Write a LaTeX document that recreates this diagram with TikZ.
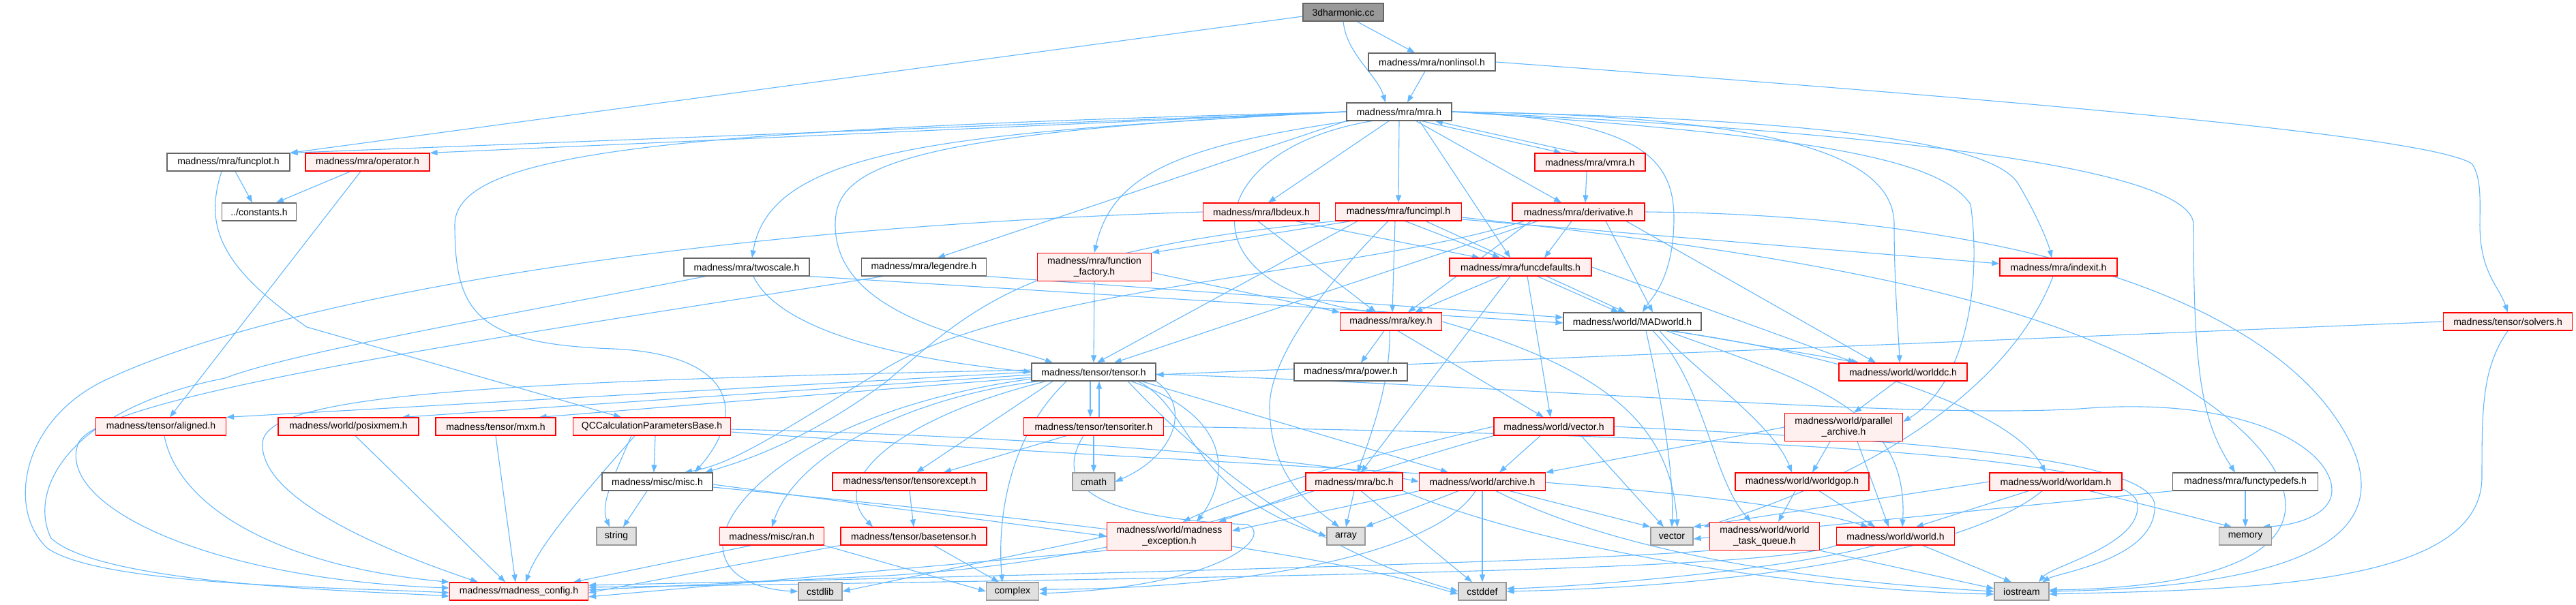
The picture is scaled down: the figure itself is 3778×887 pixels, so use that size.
\documentclass[tikz,border=0pt]{standalone}
\usepackage{fontspec}
\setmainfont{Liberation Sans}
\usetikzlibrary{arrows.meta}
\definecolor{edgec}{HTML}{63B8FF}
\definecolor{redfill}{HTML}{FFF0F0}
\definecolor{grayfill}{HTML}{E0E0E0}
\definecolor{grayline}{HTML}{999999}
\definecolor{darkline}{HTML}{666666}
\definecolor{rootfill}{HTML}{999999}
\pgfdeclarelayer{bg}
\pgfsetlayers{bg,main}
\newcommand\dnode[5]{\node[#1,minimum width=#4pt] (#2) at (#3) {#5};}
\begin{document}
\begin{tikzpicture}[x=1pt,y=-1pt,
  box/.style={draw,line width=1.2pt,inner sep=0pt,minimum height=26pt,align=center,font=\fontsize{14}{15.5}\selectfont},
  wbox/.style={box,draw=darkline,fill=white},
  rbox/.style={box,draw=red,fill=redfill},
  gbox/.style={box,draw=grayline,fill=grayfill},
  rootbox/.style={box,draw=darkline,fill=rootfill},
  tall/.style={minimum height=41pt},
  dep/.style={draw=edgec,line width=1.1pt,-{Triangle[length=11pt,width=8pt]}},
]
\useasboundingbox (0,0) rectangle (3778,887);
\dnode{rootbox}{n3d}{1970,18}{118}{3dharmonic.cc}
\dnode{wbox}{nonlin}{2100,91}{186}{madness/mra/nonlinsol.h}
\dnode{wbox}{mra}{2052,164}{154}{madness/mra/mra.h}
\dnode{wbox}{funcplot}{335,238}{180}{madness/mra/funcplot.h}
\dnode{rbox}{oper}{539,238}{182}{madness/mra/operator.h}
\dnode{rbox}{vmra}{2332,238}{162}{madness/mra/vmra.h}
\dnode{wbox}{consts}{380,311}{109}{../constants.h}
\dnode{rbox}{lbdeux}{1850,311}{171}{madness/mra/lbdeux.h}
\dnode{rbox}{funcimpl}{2051,311}{185}{madness/mra/funcimpl.h}
\dnode{rbox}{deriv}{2315,311}{194}{madness/mra/derivative.h}
\dnode{wbox}{legendre}{1355,392}{183}{madness/mra/legendre.h}
\dnode{rbox,tall}{ffact}{1605,392}{167}{madness/mra/function\\\_factory.h}
\dnode{rbox}{fdef}{2230,392}{208}{madness/mra/funcdefaults.h}
\dnode{wbox}{twoscale}{1095,392}{184}{madness/mra/twoscale.h}
\dnode{rbox}{indexit}{3019,392}{172}{madness/mra/indexit.h}
\dnode{rbox}{key}{2040,472}{149}{madness/mra/key.h}
\dnode{wbox}{madw}{2394,472}{202}{madness/world/MADworld.h}
\dnode{rbox}{solvers}{3678,472}{189}{madness/tensor/solvers.h}
\dnode{wbox}{tensor}{1604,546}{182}{madness/tensor/tensor.h}
\dnode{wbox}{power}{1981,546}{166}{madness/mra/power.h}
\dnode{rbox}{worlddc}{2791,546}{188}{madness/world/worlddc.h}
\dnode{rbox}{aligned}{236,626}{191}{madness/tensor/aligned.h}
\dnode{rbox}{posix}{511,626}{206}{madness/world/posixmem.h}
\dnode{rbox}{mxm}{727,626}{176}{madness/tensor/mxm.h}
\dnode{rbox}{qcc}{956,626}{231}{QCCalculationParametersBase.h}
\dnode{rbox}{titer}{1604,626}{205}{madness/tensor/tensoriter.h}
\dnode{rbox}{wvec}{2279,626}{176}{madness/world/vector.h}
\dnode{rbox,tall}{parch}{2704,627}{173}{madness/world/parallel\\\_archive.h}
\dnode{wbox}{misc}{964,707}{162}{madness/misc/misc.h}
\dnode{rbox}{texcept}{1334,707}{226}{madness/tensor/tensorexcept.h}
\dnode{gbox}{cmath}{1604,707}{62}{cmath}
\dnode{rbox}{bc}{1986,707}{142}{madness/mra/bc.h}
\dnode{rbox}{archive}{2174,707}{185}{madness/world/archive.h}
\dnode{rbox}{wgop}{2643,707}{196}{madness/world/worldgop.h}
\dnode{rbox}{wam}{3015,707}{194}{madness/world/worldam.h}
\dnode{wbox}{ftype}{3293,707}{213}{madness/mra/functypedefs.h}
\dnode{gbox}{string}{904,787}{58}{string}
\dnode{rbox}{ran}{1132,787}{153}{madness/misc/ran.h}
\dnode{rbox}{btensor}{1340,787}{214}{madness/tensor/basetensor.h}
\dnode{rbox,tall}{mexc}{1715,787}{183}{madness/world/madness\\\_exception.h}
\dnode{gbox}{array}{1974,787}{56}{array}
\dnode{gbox}{vector}{2452,787}{62}{vector}
\dnode{rbox,tall}{wtq}{2588,787}{161}{madness/world/world\\\_task\_queue.h}
\dnode{rbox}{world}{2780,787}{173}{madness/world/world.h}
\dnode{gbox}{memory}{3293,787}{77}{memory}
\dnode{rbox}{config}{761,868}{203}{madness/madness\_config.h}
\dnode{gbox}{cstdlib}{1203,868}{64}{cstdlib}
\dnode{gbox}{complex}{1485,868}{77}{complex}
\dnode{gbox}{cstddef}{2174,868}{70}{cstddef}
\dnode{gbox}{iostream}{2965,868}{80}{iostream}
\begin{pgfonlayer}{bg}
\fill[white] (0,0) rectangle (3778,887);
% top
\draw[dep] ([yshift=-6pt]n3d.west) -- (funcplot.north east);
\draw[dep] (n3d.south) .. controls (1975,80) and (2020,110) .. ([xshift=-20]mra.north);
\draw[dep] ([xshift=20]n3d.south) -- ([xshift=-25]nonlin.north);
\draw[dep] ([xshift=-10]nonlin.south) -- ([xshift=12]mra.north);
\draw[dep] (nonlin.east) .. controls (3000,150) and (3560,200) .. (3625,240) .. controls (3640,260) and (3637,300) .. (3637,330) .. controls (3637,400) and (3665,420) .. (solvers.north);
% mra
\draw[dep] (mra.west) -- (funcplot.north east);
\draw[dep] (mra.west) -- (oper.north east);
\draw[dep] ([xshift=33]mra.south) -- ([xshift=-42]vmra.north);
\draw[dep] ([xshift=-17]vmra.north) -- ([xshift=53]mra.south);
\draw[dep] ([xshift=-15]mra.south) -- ([xshift=10]lbdeux.north);
\draw[dep] (mra.south) -- (funcimpl.north);
\draw[dep] ([xshift=25]mra.south) -- ([xshift=-25]deriv.north);
\draw[dep] (mra.south west) -- ([xshift=20]legendre.north);
\draw[dep] ([xshift=5]mra.south west) .. controls (1720,215) and (1630,260) .. (ffact.north);
\draw[dep] ([xshift=30]mra.south) -- ([xshift=-15]fdef.north);
\draw[dep] (mra.west) .. controls (1400,195) and (1130,215) .. ([xshift=8]twoscale.north);
\draw[dep] (mra.west) .. controls (1300,195) and (1225,250) .. (1225,330) .. controls (1225,470) and (1450,500) .. ([xshift=-60]tensor.north);
\draw[dep] (mra.west) .. controls (1000,190) and (667,220) .. (667,330) .. controls (667,460) and (700,505) .. (900,512) .. controls (1070,520) and (1100,600) .. ([xshift=55]misc.north);
\draw[dep] ([xshift=-40]mra.south) .. controls (1760,220) and (1730,420) .. ([xshift=-25]key.north);
\draw[dep] (mra.east) .. controls (2400,175) and (2455,230) .. (2455,320) .. controls (2455,410) and (2420,440) .. ([xshift=15]madw.north);
\draw[dep] (mra.east) .. controls (2650,170) and (2778,240) .. (2778,330) .. controls (2778,420) and (2785,500) .. ([xshift=-5]worlddc.north);
\draw[dep] (mra.east) .. controls (2750,175) and (2930,220) .. (2960,270) .. controls (2990,320) and (3005,360) .. ([xshift=-10]indexit.north);
\draw[dep] (mra.east) .. controls (2700,200) and (2850,240) .. (2890,300) .. controls (2905,400) and (2890,560) .. ([yshift=8pt]parch.east);
\draw[dep] (mra.east) .. controls (2900,200) and (3217,260) .. (3217,330) .. controls (3217,550) and (3230,620) .. ([xshift=-15]ftype.north);
\draw[dep] ([xshift=-5]vmra.south) -- ([xshift=10]deriv.north);
% funcplot, operator
\draw[dep] ([xshift=10]funcplot.south) -- ([xshift=-10]consts.north);
\draw[dep] ([xshift=-10]funcplot.south) .. controls (300,330) and (320,390) .. (450,480) -- ([xshift=-45]qcc.north);
\draw[dep] ([xshift=-25]oper.south) -- ([xshift=25]consts.north);
\draw[dep] ([xshift=-10]oper.south) -- ([xshift=13]aligned.north);
% lbdeux
\draw[dep] ([xshift=-5]lbdeux.south) -- ([xshift=-22]key.north);
\draw[dep] ([xshift=50]lbdeux.south) -- ([xshift=-60]fdef.north);
\draw[dep] (lbdeux.west) .. controls (1000,335) and (400,440) .. (150,560) .. controls (30,620) and (10,750) .. (70,805) .. controls (150,860) and (500,862) .. ([yshift=-2pt]config.west);
% funcimpl
\draw[dep] ([xshift=-70]funcimpl.south) -- (ffact.north east);
\draw[dep] ([xshift=-5]funcimpl.south) -- ([xshift=2]key.north);
\draw[dep] ([xshift=10]funcimpl.south) -- ([xshift=-30]fdef.north);
\draw[dep] ([xshift=-60]funcimpl.south) -- ([xshift=5]tensor.north);
\draw[dep] (funcimpl.south west) .. controls (1500,370) and (1430,450) .. (1300,560) .. controls (1180,650) and (1080,680) .. ([xshift=70]misc.north);
\draw[dep] ([yshift=-11pt]funcimpl.east) -- ([yshift=5pt]indexit.west);
\draw[dep] ([xshift=40]funcimpl.south) -- ([xshift=-10]madw.north);
\draw[dep] ([xshift=-15]funcimpl.south) .. controls (1960,400) and (1860,520) .. (1862,600) .. controls (1864,700) and (1920,740) .. ([xshift=-10]array.north);
\draw[dep] ([yshift=-8pt]funcimpl.east) .. controls (2700,380) and (3050,450) .. (3250,600) .. controls (3420,730) and (3400,860) .. ([yshift=2pt]iostream.east);
% derivative
\draw[dep] ([xshift=-10]deriv.south) -- ([xshift=35]fdef.north);
\draw[dep] ([xshift=-70]deriv.south) -- ([xshift=25]key.north);
\draw[dep] ([xshift=-60]deriv.south) -- ([xshift=30]tensor.north);
\draw[dep] ([xshift=40]deriv.south) -- ([xshift=30]madw.north);
\draw[dep] ([xshift=70]deriv.south) -- ([xshift=-40]worlddc.north);
\draw[dep] ([xshift=-80]deriv.south) .. controls (2000,400) and (1500,420) .. (1300,540) .. controls (1150,630) and (1080,680) .. ([xshift=40]misc.north);
\draw[dep] (deriv.east) .. controls (2900,315) and (3300,420) .. (3430,620) .. controls (3520,760) and (3440,860) .. (iostream.east);
% funcdefaults
\draw[dep] ([xshift=-30]fdef.south) -- ([xshift=35]key.north);
\draw[dep] ([xshift=25]fdef.south) -- ([xshift=-20]madw.north);
\draw[dep] ([xshift=10]fdef.south) -- ([xshift=-5]wvec.north);
\draw[dep] (fdef.east) -- ([xshift=-70]worlddc.north);
\draw[dep] ([xshift=-15]fdef.south) -- ([xshift=10]bc.north);
% function_factory, legendre, twoscale
\draw[dep] (ffact.south) -- (tensor.north);
\draw[dep] ([yshift=-8pt]ffact.east) -- (key.north west);
\draw[dep] (legendre.south east) -- ([yshift=6pt]madw.west);
\draw[dep] ([xshift=-60]legendre.south) .. controls (700,500) and (150,580) .. (115,650) .. controls (80,740) and (300,850) .. ([yshift=5pt]config.west);
\draw[dep] (twoscale.south east) -- ([yshift=-2pt]madw.west);
\draw[dep] ([xshift=10]twoscale.south) .. controls (1140,480) and (1300,525) .. (tensor.west);
\draw[dep] ([xshift=-60]twoscale.south) .. controls (700,470) and (420,520) .. (330,555) .. controls (100,600) and (40,720) .. (75,790) .. controls (150,860) and (550,868) .. ([yshift=-7pt]config.west);
% key
\draw[dep] ([xshift=-10]key.south) -- ([xshift=15]power.north);
\draw[dep] ([xshift=-2]key.south) .. controls (2040,560) and (2010,640) .. ([xshift=5]bc.north);
\draw[dep] ([xshift=10]key.south) -- ([xshift=-15]wvec.north);
\draw[dep] (key.east) .. controls (2350,540) and (2450,620) .. ([xshift=8]vector.north);
% MADworld
\draw[dep] ([xshift=60]madw.south) -- ([xshift=30]worlddc.north west);
\draw[dep] ([xshift=40]madw.south) .. controls (2480,540) and (2600,620) .. ([xshift=-15]wgop.north);
\draw[dep] ([xshift=30]madw.south) .. controls (2500,560) and (2510,700) .. ([xshift=-20]wtq.north);
\draw[dep] ([xshift=50]madw.south) .. controls (2650,560) and (2800,600) .. ([xshift=10]world.north);
\draw[dep] ([xshift=55]madw.south) .. controls (2700,520) and (2950,600) .. ([xshift=-15]wam.north);
\draw[dep] ([xshift=20]madw.south) .. controls (2440,600) and (2455,700) .. (vector.north);
% solvers
\draw[dep] (solvers.west) -- ([yshift=-4pt]tensor.east);
\draw[dep] (solvers.south) .. controls (3640,540) and (3640,600) .. (3640,700) .. controls (3640,860) and (3300,865) .. ([yshift=-4pt]iostream.east);
% tensor
\draw[dep] ([xshift=-5]tensor.south) -- ([xshift=-5]titer.north);
\draw[dep] ([xshift=8]titer.north) -- ([xshift=8]tensor.south);
\draw[dep] (tensor.west) -- (aligned.north east);
\draw[dep] ([yshift=-4pt]tensor.west) -- ([xshift=-25]posix.north east);
\draw[dep] ([yshift=-8pt]tensor.west) -- ([xshift=-25]mxm.north east);
\draw[dep] ([yshift=3pt]tensor.west) .. controls (700,560) and (390,580) .. (385,650) .. controls (380,740) and (600,820) .. ([xshift=-60]config.north);
\draw[dep] ([xshift=-60]tensor.south) -- ([xshift=10]texcept.north);
\draw[dep] ([xshift=-70]tensor.south) .. controls (1330,610) and (1210,700) .. ([xshift=-60]btensor.north);
\draw[dep] (tensor.south east) .. controls (1750,600) and (1720,670) .. (cmath.east);
\draw[dep] ([xshift=-40]tensor.south) .. controls (1480,640) and (1462,760) .. ([xshift=-15]complex.north);
\draw[dep] ([xshift=65]tensor.south) .. controls (1750,600) and (1740,720) .. (array.west);
\draw[dep] ([xshift=70]tensor.south) -- ([xshift=-50]archive.north);
\draw[dep] ([xshift=55]tensor.south) .. controls (1830,620) and (1790,720) .. ([xshift=40]mexc.north);
\draw[dep] ([xshift=-80]tensor.south) .. controls (1350,580) and (1170,660) .. (ran.north);
\draw[dep] ([xshift=50]tensor.south) .. controls (1740,650) and (1900,800) .. (cstddef.west);
\draw[dep] ([yshift=-3pt]tensor.east) .. controls (2300,570) and (2800,615) .. (3050,600) .. controls (3300,580) and (3420,660) .. (3420,720) .. controls (3420,750) and (3380,770) .. ([xshift=25]memory.north);
\draw[dep] ([yshift=-10pt]tensor.west) .. controls (1200,600) and (1060,730) .. (1060,800) .. controls (1060,850) and (1120,866) .. (cstdlib.west);
% tensoriter
\draw[dep] ([xshift=-40]titer.south) -- ([xshift=50]texcept.north);
\draw[dep] (titer.south) -- (cmath.north);
\draw[dep] ([xshift=-15]titer.south) .. controls (1540,720) and (1620,760) .. (1830,770) .. controls (1870,790) and (1780,862) .. ([yshift=-3pt]complex.east);
\draw[dep] (titer.east) .. controls (2600,640) and (3130,670) .. (3135,740) .. controls (3140,800) and (3010,830) .. ([xshift=25]iostream.north);
% tensorexcept, basetensor, ran, exception
\draw[dep] (texcept.south) -- (btensor.north);
\draw[dep] ([xshift=30]btensor.south) -- ([xshift=-20]complex.north);
\draw[dep] (btensor.south west) -- ([yshift=-2pt]config.east);
\draw[dep] ([xshift=-30]ran.south) -- ([xshift=80]config.north);
\draw[dep] (ran.south east) -- (complex.west);
\draw[dep] (mexc.south west) -- ([yshift=-8pt]config.east);
\draw[dep] (mexc.west) -- (cstdlib.east);
% world/vector.h
\draw[dep] ([xshift=-20]wvec.south) -- ([xshift=25]archive.north);
\draw[dep] ([xshift=40]wvec.south) -- ([xshift=-12]vector.north);
\draw[dep] (wvec.west) .. controls (2000,670) and (1830,720) .. ([xshift=20]mexc.north);
\draw[dep] (wvec.south west) .. controls (1900,720) and (1700,820) .. (1300,845) -- ([yshift=2pt]config.east);
\draw[dep] (wvec.east) .. controls (2650,640) and (3150,660) .. (3160,740) .. controls (3165,820) and (3020,840) .. ([xshift=30]iostream.north);
% archive
\draw[dep] (archive.south west) -- ([yshift=8pt]mexc.east);
\draw[dep] ([xshift=-35]archive.south) -- (array.north east);
\draw[dep] ([xshift=40]archive.south) -- (vector.north west);
\draw[dep] (archive.south) -- (cstddef.north);
\draw[dep] ([xshift=20]archive.south) .. controls (2350,800) and (2600,850) .. (iostream.west);
\draw[dep] ([xshift=-10]archive.south) .. controls (2100,820) and (1800,865) .. ([yshift=3pt]complex.east);
% bc
\draw[dep] (bc.south west) -- ([xshift=-20]mexc.north east);
\draw[dep] (bc.south) -- (array.north);
\draw[dep] ([xshift=10]bc.south) -- ([xshift=-15]cstddef.north);
\draw[dep] (bc.south east) .. controls (2300,820) and (2700,868) .. ([yshift=-4pt]iostream.west);
% parallel archive, worlddc, worldgop, worldam
\draw[dep] (parch.west) -- (archive.north east);
\draw[dep] ([xshift=-20]parch.south) -- ([xshift=15]wgop.north);
\draw[dep] ([xshift=20]parch.south) -- ([xshift=-10]world.north);
\draw[dep] ([xshift=-10]worlddc.south) -- ([xshift=15]parch.north);
\draw[dep] ([xshift=-10]wgop.south) -- ([xshift=20]wtq.north);
\draw[dep] ([xshift=25]wgop.south) -- ([xshift=-30]world.north);
\draw[dep] (wam.west) -- (vector.north east);
\draw[dep] ([xshift=-40]wam.south) -- ([xshift=30]world.north);
\draw[dep] ([xshift=50]wam.south) -- ([xshift=-20]memory.north);
\draw[dep] ([xshift=-20]wam.south) .. controls (2900,800) and (2600,860) .. (cstddef.east);
\draw[dep] (ftype.south west) -- ([yshift=-4pt]vector.east);
\draw[dep] (ftype.south) -- (memory.north);
\draw[dep] ([xshift=-8]indexit.south) .. controls (2960,540) and (2800,680) .. ([xshift=15]vector.north east);
% world, task queue
\draw[dep] ([xshift=40]world.south) -- ([xshift=-15]iostream.north);
\draw[dep] (world.south west) .. controls (2600,835) and (2000,845) .. ([yshift=6pt]config.east);
\draw[dep] ([xshift=-30]world.south) .. controls (2600,840) and (2300,862) .. ([yshift=4pt]cstddef.east);
\draw[dep] (wtq.south east) -- ([yshift=4pt]iostream.west);
\draw[dep] (wtq.south west) .. controls (2300,825) and (1500,845) .. ([yshift=9pt]config.east);
% misc, QCC, others
\draw[dep] ([xshift=-15]misc.south) -- ([xshift=10]string.north);
\draw[dep] ([yshift=-4pt]misc.east) -- (mexc.west);
\draw[dep] ([yshift=-8pt]misc.east) .. controls (1500,760) and (1900,800) .. ([yshift=-4pt]cstddef.west);
\draw[dep] ([xshift=5]qcc.south) -- ([xshift=-5]misc.north);
\draw[dep] ([xshift=-30]qcc.south) .. controls (900,700) and (880,740) .. ([xshift=-10]string.north);
\draw[dep] ([xshift=-25]qcc.south) .. controls (860,720) and (790,800) .. ([xshift=10]config.north);
\draw[dep] ([yshift=-4pt]qcc.east) .. controls (1500,640) and (1900,670) .. (archive.west);
\draw[dep] ([yshift=-8pt]qcc.east) .. controls (1700,680) and (2500,700) .. ([xshift=-40]world.north);
\draw[dep] ([xshift=10]posix.south) -- ([xshift=-20]config.north);
\draw[dep] (mxm.south) -- ([xshift=-5]config.north);
\draw[dep] ([xshift=5]aligned.south) .. controls (260,740) and (400,830) .. (config.north west);
\end{pgfonlayer}
\end{tikzpicture}
\end{document}
